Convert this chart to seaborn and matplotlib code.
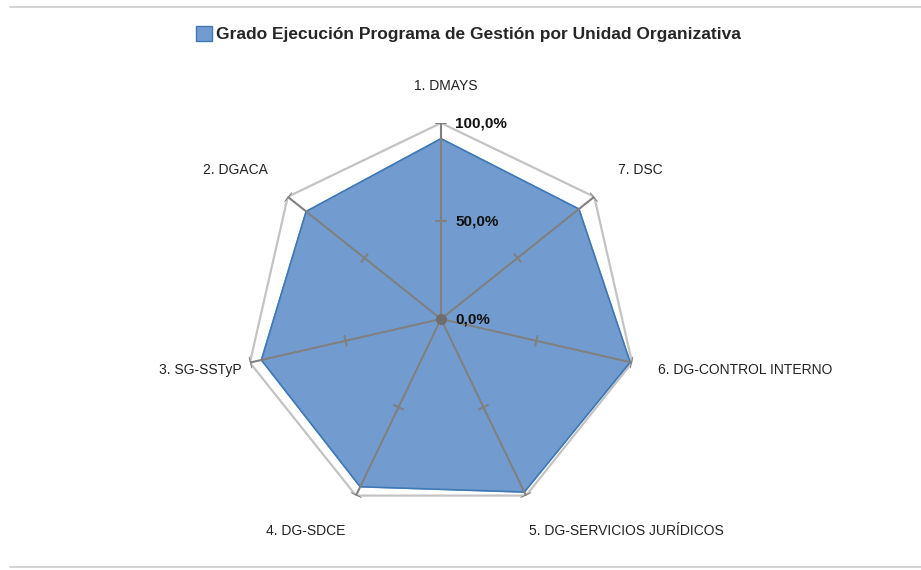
import numpy as np
import matplotlib
matplotlib.use("Agg")
import matplotlib.pyplot as plt
import seaborn as sns
from matplotlib.lines import Line2D
from matplotlib.patches import Rectangle

# ================================
# DATA
# ================================

categories = ["1. DMAYS", "2. DGACA", "3. SG-SSTyP", "4. DG-SDCE",
              "5. DG-SERVICIOS JURÍDICOS", "6. DG-CONTROL INTERNO", "7. DSC"]
values = [92.0, 88.0, 94.0, 95.0, 98.0, 99.0, 90.0]
series_name = "Grado Ejecución Programa de Gestión por Unidad Organizativa"
radial_ticks = [0.0, 50.0, 100.0]
radial_labels = ["0,0%", "50,0%", "100,0%"]

# label offsets in pixels from each outer vertex (dx, dy, ha)
label_offsets = [(5, 37, "center"), (-20, 27, "right"), (-8, -7, "right"),
                 (-11, -35, "right"), (3, -35, "left"), (26, -7, "left"),
                 (24, 27, "left")]

# ================================
# STYLE
# ================================

sns.set_style("white")
plt.rcParams["font.family"] = ["Liberation Sans", "DejaVu Sans"]

fill_col = "#729ccf"
edge_col = "#3f79b5"
spoke_col = "#808080"
grid_col = "#c3c3c3"

fig = plt.figure(figsize=(9.21, 5.70), dpi=100)

cx, cy, R = 441, 319, 196
ax = fig.add_axes([(cx - R) / 921, (570 - cy - R) / 570, 2 * R / 921, 2 * R / 570],
                  projection="polar")
ax.set_theta_zero_location("N")
ax.set_theta_direction(1)
ax.set_ylim(0, 100)
ax.grid(False)
ax.spines["polar"].set_visible(False)
ax.set_xticks([])
ax.set_yticks([])
ax.patch.set_alpha(0)

n = len(categories)
theta = np.linspace(0, 2 * np.pi, n, endpoint=False)
theta_c = np.append(theta, theta[0])
vals_c = np.append(values, values[0])

# outer heptagon
ax.plot(theta_c, np.full(n + 1, radial_ticks[-1]), color=grid_col, lw=1.6, zorder=1)

# data polygon
ax.fill(theta_c, vals_c, color=fill_col, zorder=2, label=series_name)
ax.plot(theta_c, vals_c, color=edge_col, lw=1.2, zorder=3)

# spokes + tick marks
for t in theta:
    ax.plot([t, t], [0, radial_ticks[-1]], color=spoke_col, lw=1.5, zorder=4)
    for r in radial_ticks[1:]:
        d = 5.0 / (R * r / 100.0)
        ax.plot([t - d, t + d], [r, r], color=spoke_col, lw=1.5, zorder=4)
ax.plot([0], [0], "o", color="#6e6e6e", ms=7, zorder=5)

# radial labels
for r, lab in zip(radial_ticks, radial_labels):
    ax.annotate(lab, xy=(0, r), xytext=(14, 0), textcoords="offset pixels",
                ha="left", va="center", fontsize=11, fontweight="bold",
                color="#111111", zorder=6)

# category labels
for t, lab, (dx, dy, ha) in zip(theta, categories, label_offsets):
    ax.annotate(lab, xy=(t, radial_ticks[-1]), xytext=(dx, dy),
                textcoords="offset pixels", ha=ha, va="center",
                fontsize=10, color="#222222", annotation_clip=False)

# legend as title
fig.legend(handles=[Rectangle((0, 0), 1, 1, facecolor=fill_col, edgecolor=edge_col, lw=1)],
           labels=[series_name], loc="center", bbox_to_anchor=(468 / 921, 1 - 34 / 570),
           frameon=False, handlelength=0.95, handleheight=0.95, handletextpad=0.2,
           prop={"weight": "bold", "size": 12.5})

# chart frame lines
fig.add_artist(Line2D([10 / 921, 1], [1 - 7 / 570] * 2, color="#cccccc", lw=1.2,
                      transform=fig.transFigure))
fig.add_artist(Line2D([10 / 921, 1], [1 - 567 / 570] * 2, color="#cccccc", lw=1.2,
                      transform=fig.transFigure))

fig.savefig("out.png", dpi=100)
